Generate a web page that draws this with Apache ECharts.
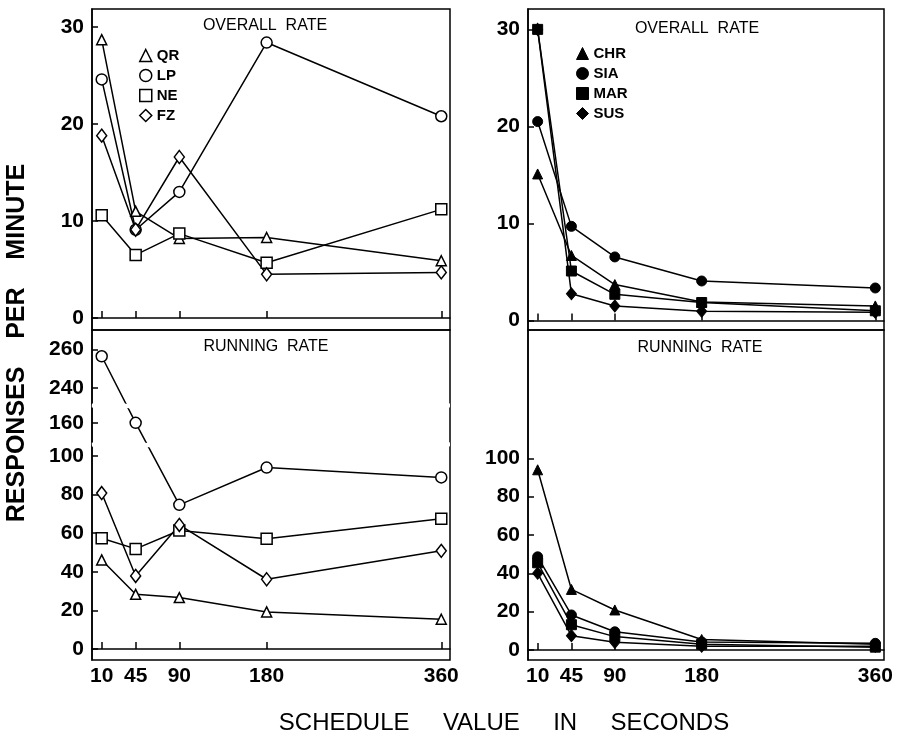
<!DOCTYPE html>
<html><head><meta charset="utf-8">
<script src="https://cdn.jsdelivr.net/npm/echarts@6/dist/echarts.min.js"></script>
<style>html,body{margin:0;padding:0;background:#fff}#c{width:899px;height:743px}</style>
</head><body><div id="c"></div>
<script>
// ---- data ----
const schedule = [10, 45, 90, 180, 360];
const xTicks = [10, 45, 90, 180, 360];
const yTicksOverall = [0, 10, 20, 30];
const yTicksRunningLeft = [0, 20, 40, 60, 80, 100, 160, 240, 260];
const yTicksRunningRight = [0, 20, 40, 60, 80, 100];

// Overall rate, left panel (open symbols)
const overallQR = [28.7, 11.0, 8.2, 8.3, 5.9];
const overallLP = [24.6, 9.1, 13.0, 28.4, 20.8];
const overallNE = [10.6, 6.5, 8.7, 5.7, 11.2];
const overallFZ = [18.8, 9.1, 16.6, 4.5, 4.7];
// Running rate, left panel
const runningQR = [46.1, 28.3, 26.6, 19.2, 15.4];
const runningLP = [256.4, 160, 74.6, 93.9, 88.8];
const runningNE = [57.3, 51.8, 61.3, 57.0, 67.4];
const runningFZ = [80.7, 37.8, 64.2, 36.1, 50.8];
// Overall rate, right panel (filled symbols)
const overallCHR = [15.1, 6.7, 3.7, 1.9, 1.5];
const overallSIA = [20.5, 9.7, 6.55, 4.07, 3.35];
const overallMAR = [30, 5.1, 2.7, 1.85, 1.0];
const overallSUS = [30, 2.75, 1.5, 0.95, 0.85];
// Running rate, right panel
const runningCHR = [94, 31.6, 20.9, 5.5, 3.0];
const runningSIA = [48.6, 18.3, 9.5, 4.2, 3.5];
const runningMAR = [45.5, 13.2, 7.0, 3.0, 1.5];
const runningSUS = [40, 7.5, 4.0, 2.0, 2.0];

// ---- chart ----
const FONT = '"Liberation Sans", Arial, Helvetica, sans-serif';
const chart = echarts.init(document.getElementById('c'), null, {renderer: 'canvas'});
const pairs = arr => schedule.map((x, i) => [x, arr[i]]);

const grids = [
  {left: 92, top: 9, width: 358, height: 321},
  {left: 92, top: 330, width: 358, height: 330},
  {left: 528, top: 9, width: 356, height: 321},
  {left: 528, top: 330, width: 356, height: 330}
].map(g => Object.assign(g, {show: true, borderColor: '#000', borderWidth: 1.5, backgroundColor: 'transparent', z: 0}));

function xAx(i, showLabel) {
  return {
    gridIndex: i, type: 'value', min: 0, max: 369,
    splitLine: {show: false},
    axisLine: {show: true, lineStyle: {color: '#000', width: 1.5}},
    axisTick: {show: true, inside: true, length: 7, customValues: xTicks, lineStyle: {color: '#000', width: 1.5}},
    axisLabel: {show: showLabel, customValues: xTicks, color: '#000', fontSize: 21, fontWeight: 'bold', fontFamily: FONT, margin: 6}
  };
}
function yAx(i, min, max, ticks, extra) {
  return Object.assign({
    gridIndex: i, type: 'value', min: min, max: max,
    splitLine: {show: false},
    axisLine: {show: true, lineStyle: {color: '#000', width: 1.5}},
    axisTick: {show: true, inside: true, length: 6, customValues: ticks, lineStyle: {color: '#000', width: 1.5}},
    axisLabel: {customValues: ticks, color: '#000', fontSize: 21, fontWeight: 'bold', fontFamily: FONT, margin: 8}
  }, extra || {});
}

const openStyle = {color: '#fff', borderColor: '#000', borderWidth: 1.5};
const fillStyle = {color: '#000', borderColor: '#000', borderWidth: 1};
function ser(name, data, idx, symbol, size, open) {
  return {
    name: name, type: 'line', xAxisIndex: idx, yAxisIndex: idx,
    data: pairs(data), symbol: symbol, symbolSize: size, showAllSymbol: true,
    lineStyle: {color: '#000', width: 1.5},
    itemStyle: open ? openStyle : fillStyle,
    emphasis: {disabled: true}, z: 5
  };
}
const sym = {tri: 'triangle', cir: 'circle', sq: 'rect', dia: 'diamond'};
const titleFont = '16px ' + FONT;

const option = {
  animation: false,
  backgroundColor: '#fff',
  grid: grids,
  xAxis: [xAx(0, false), xAx(1, true), xAx(2, false), xAx(3, true)],
  yAxis: [
    yAx(0, -1.24, 31.86, yTicksOverall),
    yAx(1, -5.7, 270, yTicksRunningLeft, {
      breaks: [{start: 105, end: 150, gap: '1.2%'}, {start: 168, end: 232, gap: '1.2%'}],
      breakArea: {show: true, itemStyle: {color: '#fff', borderColor: 'transparent', borderWidth: 0, opacity: 1}, zigzagAmplitude: 1.5}
    }),
    yAx(2, -0.98, 32.1, yTicksOverall),
    yAx(3, -5.2, 166.9, yTicksRunningRight)
  ],
  legend: [
    {
      orient: 'vertical', left: 139, top: 48, padding: 0, itemGap: 5, itemWidth: 12, itemHeight: 12,
      selectedMode: false,
      textStyle: {color: '#000', fontSize: 15, fontWeight: 'bold', fontFamily: FONT},
      data: [
        {name: 'QR', icon: 'triangle', itemStyle: openStyle},
        {name: 'LP', icon: 'circle', itemStyle: openStyle},
        {name: 'NE', icon: 'rect', itemStyle: openStyle},
        {name: 'FZ', icon: 'diamond', itemStyle: openStyle}
      ]
    },
    {
      orient: 'vertical', left: 576, top: 46, padding: 0, itemGap: 5, itemWidth: 12, itemHeight: 12,
      selectedMode: false,
      textStyle: {color: '#000', fontSize: 15, fontWeight: 'bold', fontFamily: FONT},
      data: [
        {name: 'CHR', icon: 'triangle', itemStyle: fillStyle},
        {name: 'SIA', icon: 'circle', itemStyle: fillStyle},
        {name: 'MAR', icon: 'rect', itemStyle: fillStyle},
        {name: 'SUS', icon: 'diamond', itemStyle: fillStyle}
      ]
    }
  ],
  graphic: [
    {type: 'text', x: 265, y: 26, style: {text: 'OVERALL  RATE', align: 'center', verticalAlign: 'middle', font: titleFont, fill: '#000'}},
    {type: 'text', x: 697, y: 29, style: {text: 'OVERALL  RATE', align: 'center', verticalAlign: 'middle', font: titleFont, fill: '#000'}},
    {type: 'text', x: 266, y: 347, style: {text: 'RUNNING  RATE', align: 'center', verticalAlign: 'middle', font: titleFont, fill: '#000'}},
    {type: 'text', x: 700, y: 348, style: {text: 'RUNNING  RATE', align: 'center', verticalAlign: 'middle', font: titleFont, fill: '#000'}},
    {type: 'text', x: 504, y: 723, style: {text: 'SCHEDULE     VALUE     IN     SECONDS', align: 'center', verticalAlign: 'middle', font: '24px ' + FONT, fill: '#000'}},
    {type: 'text', x: 17, y: 343, rotation: Math.PI / 2, style: {text: 'RESPONSES    PER    MINUTE', align: 'center', verticalAlign: 'middle', font: 'bold 25px ' + FONT, fill: '#000'}}
  ],
  series: [
    ser('QR', overallQR, 0, sym.tri, 10, true),
    ser('LP', overallLP, 0, sym.cir, 11, true),
    ser('NE', overallNE, 0, sym.sq, 11, true),
    ser('FZ', overallFZ, 0, sym.dia, [10, 13], true),
    ser('QR', runningQR, 1, sym.tri, 10, true),
    ser('LP', runningLP, 1, sym.cir, 11, true),
    ser('NE', runningNE, 1, sym.sq, 11, true),
    ser('FZ', runningFZ, 1, sym.dia, [10, 13], true),
    ser('CHR', overallCHR, 2, sym.tri, 10, false),
    ser('SIA', overallSIA, 2, sym.cir, 10, false),
    ser('MAR', overallMAR, 2, sym.sq, 10, false),
    ser('SUS', overallSUS, 2, sym.dia, [10, 12], false),
    ser('CHR', runningCHR, 3, sym.tri, 10, false),
    ser('SIA', runningSIA, 3, sym.cir, 10, false),
    ser('MAR', runningMAR, 3, sym.sq, 10, false),
    ser('SUS', runningSUS, 3, sym.dia, [10, 12], false)
  ]
};
chart.setOption(option);
</script>
</body></html>
